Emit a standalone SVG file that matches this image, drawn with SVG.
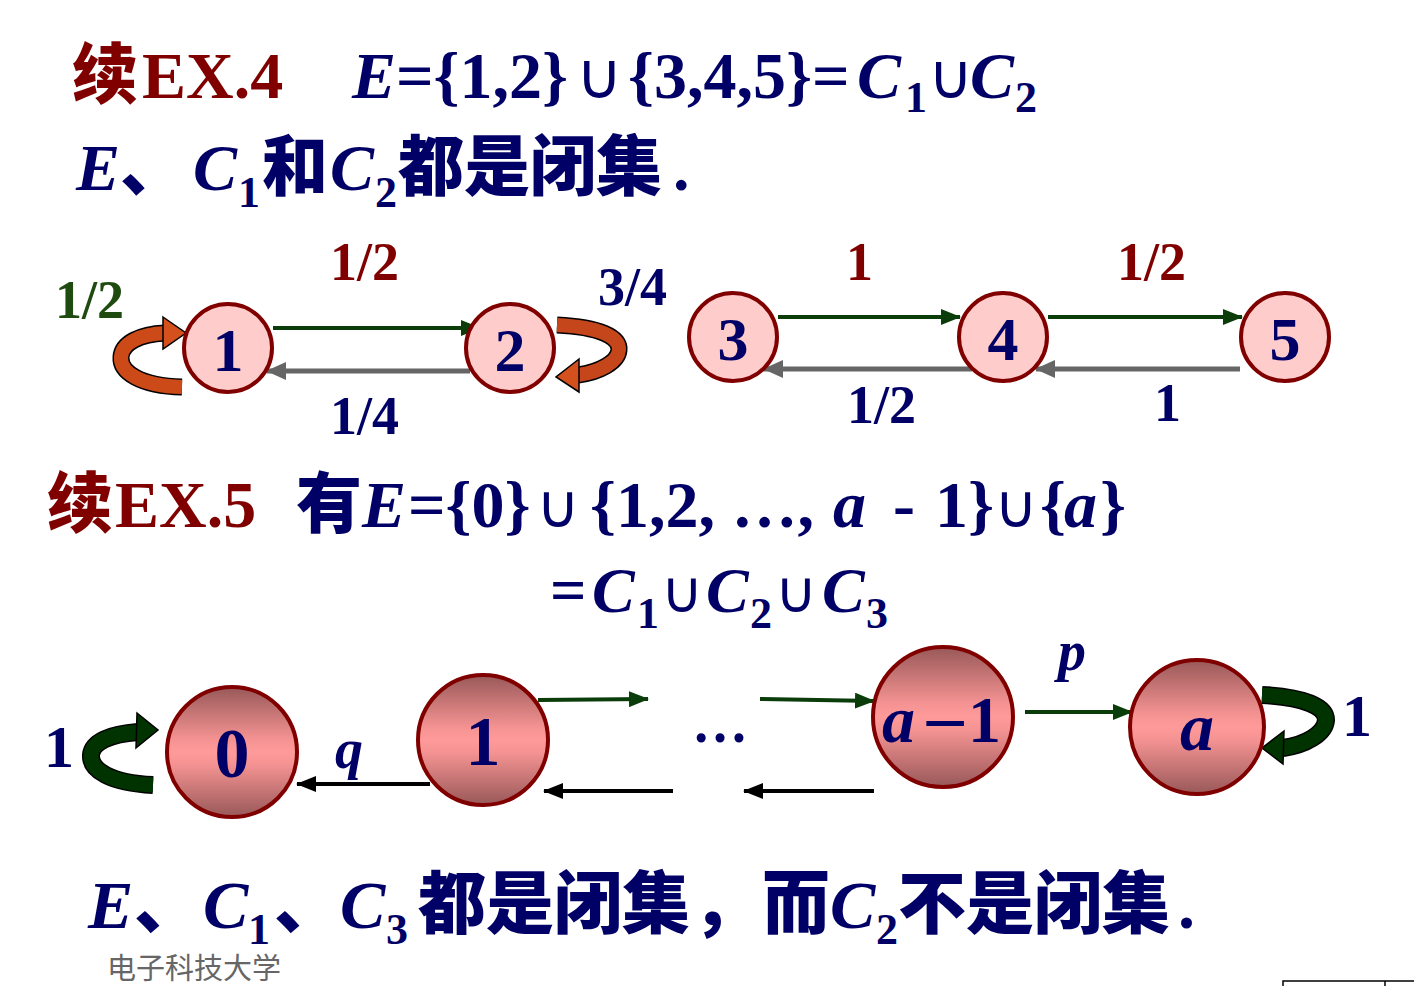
<svg xmlns="http://www.w3.org/2000/svg" width="1414" height="986" viewBox="0 0 1414 986">
<style>
.ser{font-family:"Liberation Serif","Times New Roman",serif;font-weight:bold}
.it{font-style:italic}
.cjk{font-family:"Noto Sans CJK SC","Noto Sans CJK JP",sans-serif;font-weight:900}
.uni{font-family:"DejaVu Sans",sans-serif;font-weight:normal}
.navy{fill:#000066}
.red{fill:#800000}
.grn{fill:#1f4a10}
.n1{fill:#ffcccc;stroke:#800000;stroke-width:4}
.n2{fill:url(#g);stroke:#800000;stroke-width:4}
.ga{stroke:#0a3d0a;stroke-width:4;fill:none}
.gy{stroke:#666666;stroke-width:5;fill:none}
.bk{stroke:#000000;stroke-width:4;fill:none}
</style>
<defs>
<linearGradient id="g" x1="0" y1="0" x2="0" y2="1">
<stop offset="0" stop-color="#985858"/>
<stop offset="0.4" stop-color="#f49292"/>
<stop offset="0.5" stop-color="#ff9a9a"/>
<stop offset="0.6" stop-color="#f49292"/>
<stop offset="1" stop-color="#985858"/>
</linearGradient>
<marker id="mg" markerUnits="userSpaceOnUse" markerWidth="20" markerHeight="16" refX="19" refY="8" orient="auto"><path d="M0,0 L20,8 L0,16 z" fill="#0a3d0a"/></marker>
<marker id="my" markerUnits="userSpaceOnUse" markerWidth="20" markerHeight="18" refX="19" refY="9" orient="auto"><path d="M0,0 L20,9 L0,18 z" fill="#666666"/></marker>
<marker id="mb" markerUnits="userSpaceOnUse" markerWidth="20" markerHeight="16" refX="19" refY="8" orient="auto"><path d="M0,0 L20,8 L0,16 z" fill="#000000"/></marker>
</defs>
<rect width="1414" height="986" fill="#ffffff"/>

<!-- Headings -->
<g id="title1">
<text y="98" font-size="66"><tspan class="cjk red" x="72">续</tspan><tspan class="ser red" x="142">EX.4</tspan><tspan class="ser it navy" x="352">E</tspan><tspan class="ser navy" x="396">={1,2}</tspan><tspan class="uni navy" x="576" font-size="64">∪</tspan><tspan class="ser navy" x="628">{3,4,5}=</tspan><tspan class="ser it navy" x="857">C</tspan><tspan class="ser navy" x="905" y="112" font-size="44">1</tspan><tspan class="uni navy" x="928" y="98" font-size="62">∪</tspan><tspan class="ser it navy" x="970">C</tspan><tspan class="ser navy" x="1015" y="112" font-size="44">2</tspan></text>
</g>
<g id="title2">
<text y="190" font-size="66"><tspan class="ser it navy" x="76">E</tspan><tspan class="cjk navy" x="120">、</tspan><tspan class="ser it navy" x="193">C</tspan><tspan class="ser navy" x="238" y="207" font-size="44">1</tspan><tspan class="cjk navy" x="262" y="190">和</tspan><tspan class="ser it navy" x="330">C</tspan><tspan class="ser navy" x="375" y="207" font-size="44">2</tspan><tspan class="cjk navy" x="398" y="190">都是闭集</tspan><tspan class="ser navy" x="673">.</tspan></text>
</g>

<!-- Example 4 connectors -->
<g id="connectors4">
<line class="ga" x1="273" y1="328" x2="480" y2="328" marker-end="url(#mg)"/>
<line class="gy" x1="470" y1="371" x2="267" y2="371" marker-end="url(#my)"/>
<line class="ga" x1="778" y1="317" x2="960" y2="317" marker-end="url(#mg)"/>
<line class="gy" x1="972" y1="369" x2="764" y2="369" marker-end="url(#my)"/>
<line class="ga" x1="1048" y1="317" x2="1242" y2="317" marker-end="url(#mg)"/>
<line class="gy" x1="1240" y1="369" x2="1036" y2="369" marker-end="url(#my)"/>
<!-- self loops -->
<path d="M182,387 C140,386 120,372 121,357 C122,343 140,334 165,333" stroke="#000" stroke-width="17" fill="none"/>
<path d="M182,387 C140,386 120,372 121,357 C122,343 140,334 165,333" stroke="#cc4a18" stroke-width="14" fill="none"/>
<path d="M163,317 L186,333 L163,349 z" fill="#d4501c" stroke="#000" stroke-width="1.5"/>
<path d="M557,325 C600,327 620,337 619,350 C618,362 600,372 578,375" stroke="#000" stroke-width="17" fill="none"/>
<path d="M557,325 C600,327 620,337 619,350 C618,362 600,372 578,375" stroke="#c4461a" stroke-width="14" fill="none"/>
<path d="M579,359 L556,377 L579,392 z" fill="#d4501c" stroke="#000" stroke-width="1.5"/>
<text class="ser grn" x="55" y="318" font-size="54">1/2</text>
<text class="ser red" x="330" y="280" font-size="54">1/2</text>
<text class="ser navy" x="330" y="434" font-size="54">1/4</text>
<text class="ser navy" x="598" y="305" font-size="54">3/4</text>
<text class="ser red" x="846" y="280" font-size="54">1</text>
<text class="ser red" x="1117" y="280" font-size="54">1/2</text>
<text class="ser navy" x="847" y="423" font-size="54">1/2</text>
<text class="ser navy" x="1154" y="421" font-size="54">1</text>
</g>

<!-- Example 4 nodes -->
<g id="node-1"><circle class="n1" cx="228" cy="348" r="44"/><text class="ser navy" x="228" y="371" font-size="62" text-anchor="middle">1</text></g>
<g id="node-2"><circle class="n1" cx="510" cy="348" r="44"/><text class="ser navy" x="510" y="371" font-size="62" text-anchor="middle">2</text></g>
<g id="node-3"><circle class="n1" cx="733" cy="337" r="44"/><text class="ser navy" x="733" y="360" font-size="62" text-anchor="middle">3</text></g>
<g id="node-4"><circle class="n1" cx="1003" cy="337" r="44"/><text class="ser navy" x="1003" y="360" font-size="62" text-anchor="middle">4</text></g>
<g id="node-5"><circle class="n1" cx="1285" cy="337" r="44"/><text class="ser navy" x="1285" y="360" font-size="62" text-anchor="middle">5</text></g>

<!-- Example 5 heading -->
<g id="title3">
<text y="527" font-size="66"><tspan class="cjk red" x="47">续</tspan><tspan class="ser red" x="115">EX.5</tspan><tspan class="cjk navy" x="296">有</tspan><tspan class="ser it navy" x="362">E</tspan><tspan class="ser navy" x="408">={0}</tspan><tspan class="uni navy" x="536" font-size="60">∪</tspan><tspan class="ser navy" x="590">{1,2, …, </tspan><tspan class="ser it navy" x="833">a</tspan><tspan class="ser navy" x="893">-</tspan><tspan class="ser navy" x="935">1}</tspan><tspan class="uni navy" x="994" font-size="60">∪</tspan><tspan class="ser navy" x="1040">{</tspan><tspan class="ser it navy" x="1064">a</tspan><tspan class="ser navy" x="1100">}</tspan></text>
</g>
<g id="title4">
<text y="612" font-size="64"><tspan class="ser navy" x="550">=</tspan><tspan class="ser it navy" x="592">C</tspan><tspan class="ser navy" x="637" y="628" font-size="44">1</tspan><tspan class="uni navy" x="661" y="612" font-size="58">∪</tspan><tspan class="ser it navy" x="706">C</tspan><tspan class="ser navy" x="750" y="628" font-size="44">2</tspan><tspan class="uni navy" x="775" y="612" font-size="58">∪</tspan><tspan class="ser it navy" x="822">C</tspan><tspan class="ser navy" x="866" y="628" font-size="44">3</tspan></text>
</g>

<!-- Example 5 connectors -->
<g id="connectors5">
<line class="ga" x1="538" y1="700" x2="648" y2="699" marker-end="url(#mg)"/>
<line class="ga" x1="760" y1="699" x2="874" y2="701" marker-end="url(#mg)"/>
<line class="ga" x1="1025" y1="712" x2="1132" y2="712" marker-end="url(#mg)"/>
<line class="bk" x1="430" y1="784" x2="297" y2="784" marker-end="url(#mb)"/>
<line class="bk" x1="673" y1="791" x2="544" y2="791" marker-end="url(#mb)"/>
<line class="bk" x1="874" y1="791" x2="744" y2="791" marker-end="url(#mb)"/>
<path d="M153,785 C110,783 90,770 91,755 C92,742 110,734 138,732" stroke="#000" stroke-width="18" fill="none"/>
<path d="M153,785 C110,783 90,770 91,755 C92,742 110,734 138,732" stroke="#003300" stroke-width="15" fill="none"/>
<path d="M137,713 L158,730 L136,748 z" fill="#003300" stroke="#000" stroke-width="1.5"/>
<path d="M1262,695 C1305,697 1326,707 1326,720 C1325,734 1305,745 1283,748" stroke="#000" stroke-width="18" fill="none"/>
<path d="M1262,695 C1305,697 1326,707 1326,720 C1325,734 1305,745 1283,748" stroke="#003300" stroke-width="15" fill="none"/>
<path d="M1284,731 L1262,748 L1283,764 z" fill="#003300" stroke="#000" stroke-width="1.5"/>
<text class="ser navy" x="44" y="767" font-size="60">1</text>
<text class="ser navy" x="1342" y="736" font-size="60">1</text>
<text class="ser it navy" x="335" y="768" font-size="56">q</text>
<text class="ser it navy" x="1058" y="670" font-size="56">p</text>
<text class="ser navy" x="720" y="742" font-size="56" text-anchor="middle">…</text>
</g>

<!-- Example 5 nodes -->
<g id="node-0"><circle class="n2" cx="232" cy="752" r="65"/><text class="ser navy" x="232" y="777" font-size="70" text-anchor="middle">0</text></g>
<g id="node-1b"><circle class="n2" cx="483" cy="740" r="65"/><text class="ser navy" x="483" y="765" font-size="70" text-anchor="middle">1</text></g>
<g id="node-a-1"><circle class="n2" cx="943" cy="717" r="70"/><text y="742" font-size="66"><tspan class="ser it navy" x="882">a</tspan><tspan class="uni navy" x="920" font-size="60">−</tspan><tspan class="ser navy" x="968">1</tspan></text></g>
<g id="node-a"><circle class="n2" cx="1197" cy="727" r="67"/><text class="ser it navy" x="1197" y="750" font-size="68" text-anchor="middle">a</text></g>

<!-- Conclusion -->
<g id="conclusion">
<text y="928" font-size="68"><tspan class="ser it navy" x="88">E</tspan><tspan class="cjk navy" x="134">、</tspan><tspan class="ser it navy" x="203">C</tspan><tspan class="ser navy" x="248" y="944" font-size="44">1</tspan><tspan class="cjk navy" x="274" y="928">、</tspan><tspan class="ser it navy" x="340">C</tspan><tspan class="ser navy" x="386" y="944" font-size="44">3</tspan><tspan class="cjk navy" x="418" y="928">都是闭集</tspan><tspan class="cjk navy" x="692">，</tspan><tspan class="cjk navy" x="762">而</tspan><tspan class="ser it navy" x="830">C</tspan><tspan class="ser navy" x="876" y="944" font-size="44">2</tspan><tspan class="cjk navy" x="898" y="928">不是闭集</tspan><tspan class="ser navy" x="1178">.</tspan></text>
</g>

<g id="footer">
<text x="107" y="979" font-size="29" fill="#666666" font-family="Noto Sans CJK SC, sans-serif">电子科技大学</text>
<path d="M1283,986 V981 H1414 M1385,981 V986" stroke="#000" stroke-width="1.5" fill="none"/>
</g>
</svg>
